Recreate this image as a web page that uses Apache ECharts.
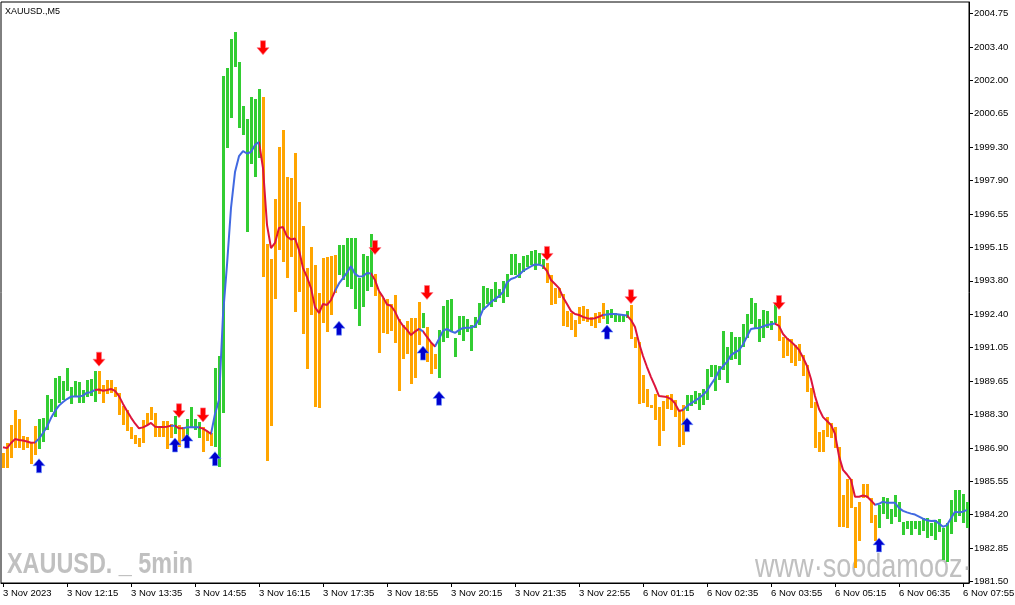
<!DOCTYPE html>
<html>
<head>
<meta charset="utf-8">
<script src="https://cdn.jsdelivr.net/npm/echarts@6/dist/echarts.min.js"></script>
<style>
html,body{margin:0;padding:0;background:#fff;}
#chart{width:1015px;height:605px;}
</style>
</head>
<body>
<div id="chart"></div>
<script>
// ---- data ----
const sessions = [
  { date: '3 Nov', start: '10:55', bars: 157 },
  { date: '6 Nov', start: '01:00', bars: 85 }
];
const xTickLabels = ['3 Nov 2023','3 Nov 12:15','3 Nov 13:35','3 Nov 14:55','3 Nov 16:15','3 Nov 17:35','3 Nov 18:55','3 Nov 20:15','3 Nov 21:35','3 Nov 22:55','6 Nov 01:15','6 Nov 02:35','6 Nov 03:55','6 Nov 05:15','6 Nov 06:35','6 Nov 07:55'];
const yTickLabels = ['1981.50','1982.85','1984.20','1985.55','1986.90','1988.30','1989.65','1991.05','1992.40','1993.80','1995.15','1996.55','1997.90','1999.30','2000.65','2002.00','2003.40','2004.75'];

const barHigh = [
 1986.75,1987.15,1987.91,1988.52,1988.15,1987.45,1987.43,1987.22,1987.86,1988.15,
 1988.18,1989.14,1988.96,1989.82,1989.91,1989.71,1990.23,1989.48,1989.71,1989.66,
 1989.34,1989.75,1989.78,1990.12,1990.12,1989.55,1989.75,1989.75,1989.48,1989.23,
 1988.68,1988.52,1987.84,1987.50,1987.36,1988.11,1988.38,1988.63,1988.38,1987.86,
 1988.07,1988.07,1987.93,1988.27,1987.91,1987.81,1988.15,1988.63,1988.14,1988.02,
 1987.81,1987.67,1987.56,1990.23,1990.73,2002.19,2002.50,2003.70,2003.98,2002.75,
 2000.96,2000.42,2001.32,2001.24,2001.65,2001.32,1995.31,1994.70,1997.16,1999.30,
 1999.98,1998.07,1998.03,1999.05,1997.04,1996.05,1994.32,1995.20,1994.45,1993.30,
 1994.75,1994.77,1994.82,1994.86,1995.27,1995.27,1995.55,1995.55,1995.55,1993.91,
 1994.90,1994.82,1995.71,1994.09,1993.36,1993.12,1993.06,1992.86,1993.23,1992.24,
 1992.00,1992.16,1992.30,1992.27,1992.95,1992.48,1991.93,1991.25,1990.81,1991.80,
 1992.78,1993.02,1993.06,1991.45,1992.37,1992.37,1992.24,1992.00,1992.31,1992.89,
 1993.59,1993.52,1993.47,1993.75,1993.47,1993.81,1994.09,1994.90,1994.90,1994.55,
 1994.82,1994.86,1995.04,1995.07,1994.93,1994.70,1994.52,1994.04,1993.50,1993.50,
 1993.25,1992.57,1992.48,1992.20,1992.75,1992.78,1992.65,1992.34,1992.48,1992.54,
 1992.91,1992.61,1992.65,1992.48,1992.45,1992.41,1992.57,1992.82,1991.52,1991.32,
 1989.95,1989.38,1988.73,1989.17,1988.65,1988.89,1989.14,1989.17,1988.93,1988.52,
 1988.73,1989.14,1989.14,1989.30,1989.23,1989.37,1990.20,1990.36,1990.36,1990.32,
 1991.75,1991.11,1991.72,1991.50,1991.50,1992.03,1992.44,1993.09,1992.89,1992.24,
 1992.61,1992.58,1992.17,1992.89,1992.37,1991.52,1991.45,1991.42,1991.18,1991.21,
 1990.77,1990.36,1989.41,1988.86,1987.61,1987.70,1988.22,1987.97,1987.81,1987.02,
 1985.04,1985.68,1985.68,1984.56,1984.77,1985.49,1985.49,1984.91,1984.22,1984.63,
 1984.95,1984.91,1984.46,1985.04,1984.77,1983.95,1983.98,1983.98,1983.98,1983.98,
 1984.09,1984.09,1983.91,1984.02,1984.04,1983.68,1983.88,1984.84,1985.25,1985.25,
 1985.08,1984.77
];
const barLow = [
 1986.13,1986.16,1986.56,1986.97,1986.97,1986.88,1986.95,1986.30,1986.68,1986.91,
 1987.22,1987.70,1988.45,1988.25,1988.79,1988.93,1989.31,1988.77,1989.06,1988.82,
 1988.82,1989.04,1989.11,1988.86,1989.16,1988.82,1989.16,1989.23,1989.04,1988.32,
 1987.91,1987.67,1987.32,1987.12,1986.99,1987.15,1987.91,1988.11,1987.40,1987.40,
 1987.40,1986.91,1987.36,1987.52,1987.02,1987.33,1987.40,1987.79,1987.70,1987.36,
 1986.81,1987.26,1987.04,1987.02,1986.20,1988.38,1999.23,2000.48,2002.57,2000.05,
 1999.77,1995.82,1998.59,1998.07,1998.85,1993.97,1986.44,1987.86,1993.05,1995.07,
 1994.56,1993.93,1994.79,1992.54,1993.36,1991.62,1990.19,1992.41,1988.65,1988.61,
 1992.07,1991.72,1992.41,1993.32,1994.04,1993.84,1993.57,1993.47,1992.64,1991.97,
 1992.75,1993.39,1993.57,1993.20,1990.84,1991.68,1991.62,1991.75,1991.25,1989.30,
 1990.59,1990.81,1989.57,1989.82,1991.18,1991.86,1990.50,1989.98,1990.19,1989.84,
 1991.32,1991.45,1991.70,1990.68,1991.59,1991.36,1991.72,1990.95,1991.86,1992.00,
 1992.61,1992.86,1992.75,1992.95,1993.11,1992.89,1993.16,1994.04,1994.04,1993.91,
 1994.18,1994.38,1994.45,1994.25,1994.48,1994.29,1993.73,1992.82,1992.86,1993.09,
 1991.96,1991.93,1991.80,1991.52,1992.03,1992.16,1992.11,1991.97,1991.89,1992.07,
 1992.24,1992.04,1992.30,1992.13,1992.13,1992.13,1992.30,1991.41,1991.07,1988.75,
 1988.82,1988.65,1988.59,1988.11,1987.06,1987.67,1988.56,1988.52,1988.25,1987.02,
 1987.09,1988.49,1988.70,1988.77,1988.52,1988.73,1988.93,1989.88,1989.30,1989.75,
 1990.16,1989.64,1990.57,1990.61,1990.36,1991.11,1991.45,1992.03,1991.86,1991.32,
 1991.48,1991.89,1991.80,1992.09,1991.36,1990.66,1990.73,1990.43,1990.33,1990.52,
 1989.93,1989.27,1988.59,1986.97,1986.79,1986.79,1987.40,1987.36,1986.95,1983.72,
 1983.72,1983.68,1984.49,1982.04,1983.17,1984.91,1984.91,1983.88,1983.17,1983.68,
 1984.26,1984.06,1983.84,1984.15,1983.95,1983.40,1983.64,1983.40,1983.64,1983.40,
 1983.57,1983.27,1983.36,1983.20,1983.54,1982.38,1982.29,1983.45,1983.95,1984.20,
 1983.88,1983.68
];
const maValues = [
 1987.00,1986.96,1987.17,1987.33,1987.29,1987.27,1987.23,1987.18,1987.19,1987.35,
 1987.58,1987.84,1988.19,1988.48,1988.70,1988.85,1988.97,1989.07,1989.07,1989.07,
 1989.11,1989.23,1989.25,1989.34,1989.36,1989.31,1989.34,1989.38,1989.30,1989.09,
 1988.77,1988.48,1988.21,1987.97,1987.77,1987.81,1987.89,1987.99,1987.84,1987.82,
 1987.82,1987.84,1987.88,1987.88,1987.77,1987.77,1987.81,1987.81,1987.81,1987.81,
 1987.76,1987.66,1987.54,1988.36,1988.93,1992.41,1994.46,1996.79,1998.26,1998.91,
 1999.12,1999.02,1999.08,1999.37,1999.49,1998.42,1996.10,1995.15,1995.36,1995.97,
 1996.01,1995.62,1995.50,1995.54,1995.07,1994.33,1993.96,1993.51,1992.73,1992.49,
 1992.86,1992.82,1993.02,1993.39,1993.70,1993.92,1994.15,1994.41,1994.09,1993.98,
 1994.00,1994.13,1994.11,1993.84,1993.39,1993.14,1992.84,1992.79,1992.55,1992.20,
 1991.97,1991.80,1991.59,1991.73,1991.84,1991.74,1991.51,1991.29,1991.12,1991.43,
 1991.76,1991.84,1991.74,1991.68,1991.79,1991.88,1991.89,1991.89,1991.96,1992.24,
 1992.63,1992.77,1992.94,1993.06,1993.18,1993.35,1993.74,1993.88,1993.94,1994.04,
 1994.21,1994.31,1994.40,1994.48,1994.47,1994.41,1994.21,1993.84,1993.68,1993.51,
 1993.14,1992.86,1992.57,1992.45,1992.41,1992.33,1992.28,1992.25,1992.28,1992.34,
 1992.41,1992.43,1992.45,1992.45,1992.43,1992.41,1992.39,1992.20,1991.92,1991.26,
 1990.73,1990.28,1989.87,1989.50,1989.09,1989.07,1989.05,1988.97,1988.79,1988.48,
 1988.52,1988.68,1988.79,1988.90,1989.01,1989.14,1989.31,1989.57,1989.81,1990.12,
 1990.32,1990.49,1990.77,1990.88,1990.97,1991.20,1991.53,1991.84,1991.87,1991.88,
 1991.94,1992.00,1992.03,1992.06,1991.96,1991.63,1991.45,1991.32,1991.16,1990.98,
 1990.67,1990.32,1989.79,1989.09,1988.56,1988.23,1988.07,1987.91,1987.54,1986.64,
 1986.07,1985.88,1985.66,1984.97,1984.97,1985.02,1984.98,1984.82,1984.64,1984.68,
 1984.77,1984.72,1984.72,1984.72,1984.51,1984.39,1984.33,1984.28,1984.24,1984.16,
 1984.07,1984.01,1983.98,1983.99,1983.88,1983.74,1983.81,1984.09,1984.36,1984.33,
 1984.36,1984.43
];
// direction runs (U = rising / green, D = falling / orange), in bar order
const colorRuns = [
 ['D',9],['U',15],['D',19],['U',1],['D',2],['U',4],['D',3],['U',12],['D',19],['U',9],
 ['D',12],['U',1],['D',3],['U',27],['D',15],['U',6],['D',14],['U',23],['D',25],['U',23]
];
const upArrowBars = [9, 43, 46, 53, 84, 105, 109, 151, 171, 219];
const upArrowPrices = [1986.24, 1987.09, 1987.25, 1986.53, 1991.87, 1990.85, 1989.00, 1991.71, 1987.92, 1983.00];
const downArrowBars = [24, 44, 50, 65, 93, 106, 136, 157, 194];
const downArrowPrices = [1990.60, 1988.49, 1988.32, 2003.35, 1995.17, 1993.33, 1994.93, 1993.16, 1992.92];

// ---- derived ----
const categories = [];
sessions.forEach(s => {
  const [h, m] = s.start.split(':').map(Number);
  for (let k = 0; k < s.bars; k++) {
    const t = h * 60 + m + 5 * k;
    const hh = String(Math.floor(t / 60)).padStart(2, '0');
    const mm = String(t % 60).padStart(2, '0');
    categories.push(s.date + ' ' + hh + ':' + mm);
  }
});
const barDir = [];
colorRuns.forEach(([c, n]) => { for (let k = 0; k < n; k++) barDir.push(c === 'U' ? 1 : 0); });

const GREEN = '#32CD32', ORANGE = '#FFA500', BLUE = '#4169E1', RED = '#DC143C';
const FONT = '"Liberation Sans", Arial, sans-serif';

const Y_MIN = 1981.44, Y_MAX = 2005.22;
const yFirst = parseFloat(yTickLabels[0]), yLast = parseFloat(yTickLabels[yTickLabels.length - 1]);
const yStep = (yLast - yFirst) / (yTickLabels.length - 1);
const yTickValues = yTickLabels.map((_, k) => yFirst + k * yStep);

const pieces = [];
let start = 0;
colorRuns.forEach(([c, n]) => {
  pieces.push({ gt: start - 1, lte: start + n - 1, color: c === 'U' ? BLUE : RED });
  start += n;
});

const UP_PATH = 'path://M6,0 L12,7 L8.5,7 L8.5,14 L3.5,14 L3.5,7 L0,7 Z';
const DOWN_PATH = 'path://M6,14 L12,7 L8.5,7 L8.5,0 L3.5,0 L3.5,7 L0,7 Z';

const chart = echarts.init(document.getElementById('chart'), null, { renderer: 'canvas' });
chart.setOption({
  animation: false,
  backgroundColor: '#fff',
  grid: {
    left: 1, top: 2, width: 968, height: 581,
    show: true, borderColor: '#000', borderWidth: 1, backgroundColor: '#fff',
    containLabel: false, outerBoundsMode: 'none'
  },
  xAxis: {
    type: 'category',
    data: categories,
    boundaryGap: true,
    axisLine: { show: true, lineStyle: { color: '#000', width: 1 } },
    axisTick: { show: true, alignWithLabel: true, interval: 15, length: 4, lineStyle: { color: '#000' } },
    axisLabel: {
      interval: 15, align: 'left', margin: 5, color: '#000', fontSize: 9.5, fontFamily: FONT,
      formatter: (v, idx) => xTickLabels[Math.round(idx / 16)] || ''
    },
    splitLine: { show: false }
  },
  yAxis: {
    type: 'value',
    position: 'right',
    min: Y_MIN, max: Y_MAX,
    z: 10,
    axisLine: { show: true, lineStyle: { color: '#000', width: 1 } },
    axisTick: { show: true, length: 4, customValues: yTickValues, lineStyle: { color: '#000' } },
    axisLabel: {
      customValues: yTickValues, margin: 5, color: '#000', fontSize: 9.5, fontFamily: FONT,
      formatter: v => yTickLabels[Math.round((v - yFirst) / yStep)] || ''
    },
    splitLine: { show: false }
  },
  visualMap: {
    show: false, type: 'piecewise', dimension: 0, seriesIndex: 2, pieces: pieces
  },
  graphic: [
    {
      type: 'text', left: 5, top: 7, z: 5,
      style: { text: 'XAUUSD.,M5', fill: '#000', font: '9px ' + FONT }
    },
    {
      type: 'text', x: 7, y: 564.6, scaleX: 0.78, z: 1, silent: true,
      style: { text: 'XAUUSD. _ 5min', x: 0, y: 0, fill: '#C0C0C0', font: 'bold 30px ' + FONT, verticalAlign: 'middle' }
    }
  ],
  series: [
    {
      type: 'custom',
      name: 'watermark',
      clip: true,
      z: 1,
      silent: true,
      data: [[0, Y_MIN]],
      renderItem: () => ({
        type: 'text', x: 755, y: 568, scaleX: 0.82,
        style: { text: 'www·soodamooz·com', fill: '#C0C0C0', font: '33px ' + FONT, verticalAlign: 'middle' }
      })
    },
    {
      type: 'custom',
      name: 'bars',
      z: 2,
      encode: { x: 0, y: [1, 2] },
      data: barHigh.map((h, i) => [i, barLow[i], h, barDir[i]]),
      renderItem: (params, api) => {
        const i = api.value(0);
        const lo = api.coord([i, api.value(1)]);
        const hi = api.coord([i, api.value(2)]);
        const x = Math.round(lo[0]) - 1;
        const top = Math.round(hi[1]);
        const bot = Math.round(lo[1]);
        return {
          type: 'rect',
          shape: { x: x, y: top, width: 3, height: Math.max(1, bot - top) },
          style: { fill: api.value(3) ? GREEN : ORANGE }
        };
      }
    },
    {
      type: 'line',
      name: 'MA',
      z: 3,
      symbol: 'none',
      data: maValues.map((v, i) => [i, v]),
      lineStyle: { width: 2 }
    },
    {
      type: 'scatter',
      name: 'up',
      z: 4,
      symbol: UP_PATH,
      symbolSize: [12, 14],
      itemStyle: { color: '#0000CD', opacity: 1, borderColor: 'rgba(110,150,255,0.8)', borderWidth: 0.8 },
      data: upArrowBars.map((b, k) => [b, upArrowPrices[k]])
    },
    {
      type: 'scatter',
      name: 'down',
      z: 4,
      symbol: DOWN_PATH,
      symbolSize: [12, 14],
      itemStyle: { color: '#FF0000', opacity: 1, borderColor: 'rgba(255,120,140,0.8)', borderWidth: 0.8 },
      data: downArrowBars.map((b, k) => [b, downArrowPrices[k]])
    }
  ]
});
</script>
</body>
</html>
